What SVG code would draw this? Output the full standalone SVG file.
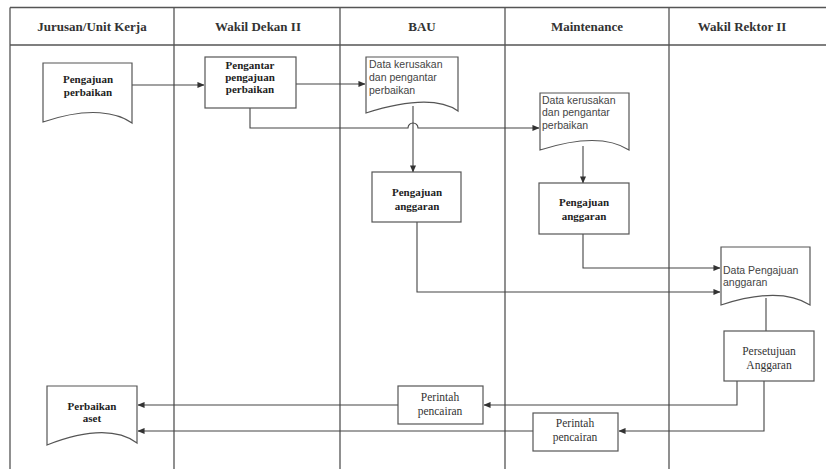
<svg xmlns="http://www.w3.org/2000/svg" width="826" height="469" viewBox="0 0 826 469">
<style>
.lane{stroke:#555;stroke-width:1.3;fill:none}
.hdr{font-family:"Liberation Serif",serif;font-weight:bold;font-size:13px;fill:#333;text-anchor:middle}
.shape{fill:#fff;stroke:#555;stroke-width:1.2}
.tb{font-family:"Liberation Serif",serif;font-weight:bold;font-size:11px;fill:#222;text-anchor:middle}
.tr{font-family:"Liberation Serif",serif;font-size:11.5px;fill:#333;text-anchor:middle}
.ts{font-family:"Liberation Sans",Arial,sans-serif;font-size:10.5px;fill:#444}
.conn{fill:none;stroke:#444;stroke-width:1.1}
</style>
<defs>
<marker id="arr" viewBox="0 0 8 8" refX="7.5" refY="4" markerWidth="7" markerHeight="7" orient="auto" markerUnits="userSpaceOnUse">
<path d="M0,0.5 L8,4 L0,7.5 Z" fill="#333"/>
</marker>
</defs>
<rect width="826" height="469" fill="#fff"/>
<g id="table">
<path class="lane" d="M10,7.5 H826 M10,45 H826 M10,7.5 V469 M174,7.5 V469 M340,7.5 V469 M505,7.5 V469 M669,7.5 V469"/>
<text class="hdr" x="92" y="31">Jurusan/Unit Kerja</text>
<text class="hdr" x="258" y="31">Wakil Dekan II</text>
<text class="hdr" x="422" y="31">BAU</text>
<text class="hdr" x="587" y="31">Maintenance</text>
<text class="hdr" x="742" y="31">Wakil Rektor II</text>
</g>
<g id="connectors">
<path class="conn" d="M132,85 H204" marker-end="url(#arr)"/>
<path class="conn" d="M296,84 H365" marker-end="url(#arr)"/>
<path class="conn" d="M250,108 V128 H408 a5,5 0 0 1 10,0 H539" marker-end="url(#arr)"/>
<path class="conn" d="M413,106 V172" marker-end="url(#arr)"/>
<path class="conn" d="M583,146 V183" marker-end="url(#arr)"/>
<path class="conn" d="M417,222 V292 H720" marker-end="url(#arr)"/>
<path class="conn" d="M583,234 V268 H720" marker-end="url(#arr)"/>
<path class="conn" d="M766,298 V331"/>
<path class="conn" d="M737,381 V405 H484" marker-end="url(#arr)"/>
<path class="conn" d="M764,381 V431 H619" marker-end="url(#arr)"/>
<path class="conn" d="M398,405 H138" marker-end="url(#arr)"/>
<path class="conn" d="M533,431 H138" marker-end="url(#arr)"/>
</g>
<g id="n-pengajuan-perbaikan">
<path class="shape" d="M43,63 H132 V123 C118,113 90,106 43,122 Z"/>
<text class="tb" x="88" y="83">Pengajuan</text>
<text class="tb" x="88" y="96">perbaikan</text>
</g>
<g id="n-pengantar">
<rect class="shape" x="205" y="57" width="91" height="51"/>
<text class="tb" x="250" y="69">Pengantar</text>
<text class="tb" x="250" y="81">pengajuan</text>
<text class="tb" x="250" y="93">perbaikan</text>
</g>
<g id="n-bau-data">
<path class="shape" d="M366,57 H458 V111 C445,102 420,96 366,113 Z"/>
<text class="ts" x="369" y="68">Data kerusakan</text>
<text class="ts" x="369" y="81">dan pengantar</text>
<text class="ts" x="369" y="94">perbaikan</text>
</g>
<g id="n-maint-data">
<path class="shape" d="M540,93 H629 V150 C615,141 590,134 540,150 Z"/>
<text class="ts" x="542" y="104">Data kerusakan</text>
<text class="ts" x="542" y="116">dan pengantar</text>
<text class="ts" x="542" y="129">perbaikan</text>
</g>
<g id="n-bau-anggaran">
<rect class="shape" x="372" y="172" width="89" height="50"/>
<text class="tb" x="417" y="196">Pengajuan</text>
<text class="tb" x="417" y="210">anggaran</text>
</g>
<g id="n-maint-anggaran">
<rect class="shape" x="539" y="183" width="90" height="51"/>
<text class="tb" x="584" y="206">Pengajuan</text>
<text class="tb" x="584" y="220">anggaran</text>
</g>
<g id="n-wr-data">
<path class="shape" d="M721,247 H810 V305 C796,296 770,289 721,305 Z"/>
<text class="ts" x="723" y="274">Data Pengajuan</text>
<text class="ts" x="723" y="286">anggaran</text>
</g>
<g id="n-persetujuan">
<rect class="shape" x="724" y="331" width="90" height="50"/>
<text class="tr" x="769" y="355">Persetujuan</text>
<text class="tr" x="769" y="369">Anggaran</text>
</g>
<g id="n-bau-perintah">
<rect class="shape" x="398" y="386" width="85" height="38"/>
<text class="tr" x="440" y="401">Perintah</text>
<text class="tr" x="440" y="415">pencairan</text>
</g>
<g id="n-maint-perintah">
<rect class="shape" x="533" y="413" width="85" height="38"/>
<text class="tr" x="575" y="427">Perintah</text>
<text class="tr" x="575" y="441">pencairan</text>
</g>
<g id="n-perbaikan-aset">
<path class="shape" d="M47,386 H137 V443 C122,432 96,426 47,445 Z"/>
<text class="tb" x="92" y="410">Perbaikan</text>
<text class="tb" x="92" y="422">aset</text>
</g>
</svg>
